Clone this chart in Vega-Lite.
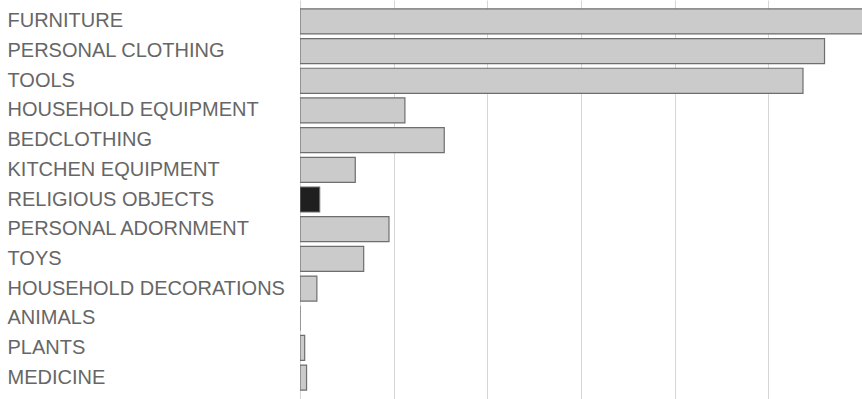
{
  "$schema": "https://vega.github.io/schema/vega-lite/v6.json",
  "width": 562,
  "height": 399,
  "autosize": {"type": "none"},
  "padding": {"left": 300, "top": 0, "right": 0, "bottom": 0},
  "background": "white",
  "data": {
    "values": [
      {"category": "FURNITURE", "count": 62, "emphasis": "no"},
      {"category": "PERSONAL CLOTHING", "count": 56, "emphasis": "no"},
      {"category": "TOOLS", "count": 53.7, "emphasis": "no"},
      {"category": "HOUSEHOLD EQUIPMENT", "count": 11.2, "emphasis": "no"},
      {"category": "BEDCLOTHING", "count": 15.4, "emphasis": "no"},
      {"category": "KITCHEN EQUIPMENT", "count": 5.9, "emphasis": "no"},
      {"category": "RELIGIOUS OBJECTS", "count": 2.1, "emphasis": "yes"},
      {"category": "PERSONAL ADORNMENT", "count": 9.5, "emphasis": "no"},
      {"category": "TOYS", "count": 6.8, "emphasis": "no"},
      {"category": "HOUSEHOLD DECORATIONS", "count": 1.8, "emphasis": "no"},
      {"category": "ANIMALS", "count": 0, "emphasis": "no"},
      {"category": "PLANTS", "count": 0.5, "emphasis": "no"},
      {"category": "MEDICINE", "count": 0.7, "emphasis": "no"}
    ]
  },
  "mark": {"type": "bar", "clip": true, "stroke": "#6e6e6e", "strokeWidth": 1.2},
  "encoding": {
    "y": {
      "field": "category",
      "type": "nominal",
      "sort": null,
      "scale": {"paddingInner": 0.157, "paddingOuter": 0.3},
      "axis": {
        "title": null,
        "domain": false,
        "ticks": false,
        "labelAlign": "left",
        "labelPadding": 293,
        "labelFont": "Liberation Sans",
        "labelFontSize": 20,
        "labelColor": "#666666",
        "labelLimit": 0
      }
    },
    "x": {
      "field": "count",
      "type": "quantitative",
      "scale": {"domain": [0, 60], "nice": false},
      "axis": {
        "orient": "top",
        "title": null,
        "labels": false,
        "domain": false,
        "ticks": false,
        "values": [0, 10, 20, 30, 40, 50, 60],
        "grid": true,
        "gridColor": "#d6d6d6",
        "gridWidth": 1
      }
    },
    "color": {
      "field": "emphasis",
      "type": "nominal",
      "scale": {"domain": ["no", "yes"], "range": ["#cbcbcb", "#1f1f1f"]},
      "legend": null
    }
  },
  "config": {"view": {"stroke": null}}
}
